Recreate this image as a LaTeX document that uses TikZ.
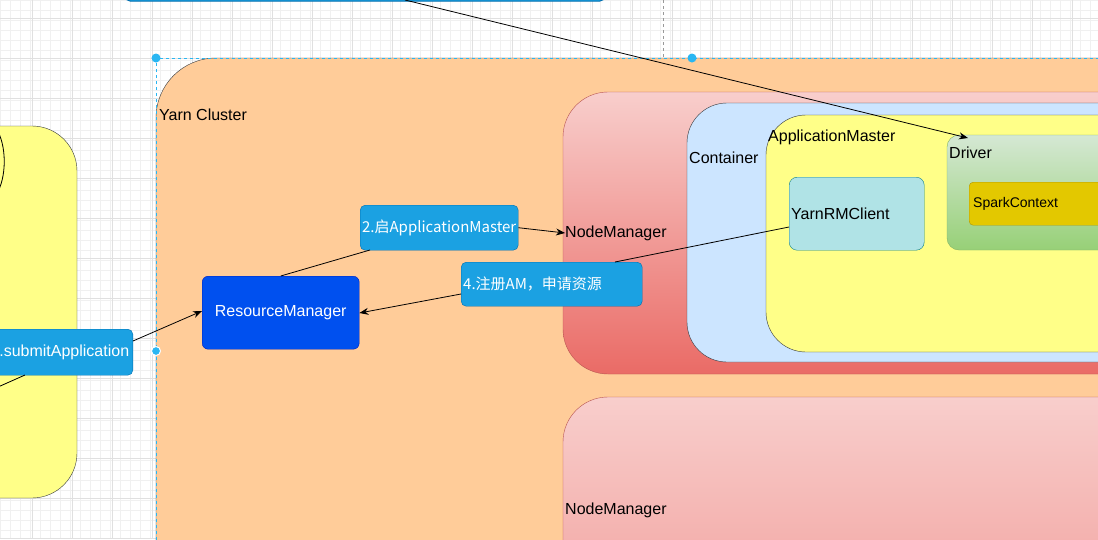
\documentclass[tikz,border=0pt]{standalone}
\usepackage{fontspec}
\setmainfont{Liberation Sans}
\newfontfamily\cjk{Noto Sans CJK SC}
\usetikzlibrary{arrows.meta}
\definecolor{blueb}{HTML}{1BA1E2}
\definecolor{bluebd}{HTML}{006EAF}
\definecolor{rmb}{HTML}{0050EF}
\definecolor{rmbd}{HTML}{001DBC}
\definecolor{orng}{HTML}{FFCC99}
\definecolor{dk}{HTML}{36393D}
\definecolor{yel}{HTML}{FFFF88}
\definecolor{nmt}{HTML}{F8CECC}
\definecolor{nmb}{HTML}{EA6B66}
\definecolor{nmd}{HTML}{B85450}
\definecolor{cont}{HTML}{CCE5FF}
\definecolor{drt}{HTML}{D5E8D4}
\definecolor{drb}{HTML}{97D077}
\definecolor{drd}{HTML}{82B366}
\definecolor{spk}{HTML}{E3C800}
\definecolor{spkd}{HTML}{B09500}
\definecolor{yrm}{HTML}{B0E3E6}
\definecolor{yrmd}{HTML}{0E8088}
\definecolor{sel}{HTML}{29B6F2}
\begin{document}
\begin{tikzpicture}[x=1pt,y=-1pt,
  fs/.style={font=\fontsize{16}{19}\selectfont},
  lbl/.style={fs,anchor=west,inner sep=0pt,text=black},
  bbox/.style={draw=bluebd,fill=blueb,rounded corners=5pt,text=white,fs,inner sep=0pt},
  ar/.style={-{Stealth[length=9pt,width=7pt]},black,line width=0.8pt},
  ln/.style={black,line width=0.8pt}]
\useasboundingbox (0,0) rectangle (1098,539);
\clip (0,0) rectangle (1098,539);
\fill[white] (0,0) rectangle (1098,539);
\foreach \i in {0,10,...,1100} \draw[black!6,line width=0.5pt] (\i,0) -- (\i,539);
\foreach \i in {0,10,...,540} \draw[black!6,line width=0.5pt] (0,\i) -- (1098,\i);
\foreach \i in {-8,32,...,1100} \draw[black!12,line width=0.6pt] (\i,0) -- (\i,539);
\foreach \i in {18,58,...,540} \draw[black!12,line width=0.6pt] (0,\i) -- (1098,\i);
% top bar
\draw[bluebd,fill=blueb,rounded corners=5pt,line width=1pt] (125,-30) rectangle (605,1);
\draw[black!40,dashed] (663,0) -- (663,57);
% left yellow
\draw[dk,fill=yel,rounded corners=45pt] (-60,126) rectangle (77,498);
\draw[black,line width=0.8pt] (-4,128) .. controls (7,145) and (7,178) .. (-4,195);
% cluster
\draw[dk,fill=orng,rounded corners=60pt] (156,58) rectangle (1160,620);
\node[lbl] (yc) at (159,115) {Yarn Cluster};
% selection
\draw[sel,dashed,line width=0.8pt] (156,600) -- (156,58) -- (1110,58);
\foreach \p in {(156,58),(692,58),(156,351)} \fill[sel] \p circle (4.5pt);
\draw[white,line width=1pt] (156,351) circle (4.5pt);
% NodeManagers
\draw[nmd,top color=nmt,bottom color=nmb,rounded corners=45pt] (563,92) rectangle (1160,374);
\node[lbl] (nm1) at (565,233) {NodeManager};
\draw[nmd,top color=nmt,bottom color=nmb!60!nmt,rounded corners=45pt] (563,397) rectangle (1160,700);
\node[lbl] (nm2) at (565,510) {NodeManager};
% container
\draw[dk,fill=cont,rounded corners=40pt] (687,103) rectangle (1160,362);
\node[lbl] at (689,158) {Container};
\draw[dk,fill=yel,rounded corners=40pt] (766,115) rectangle (1160,352);
\node[lbl] at (768,137) {ApplicationMaster};
\draw[drd,top color=drt,bottom color=drb,rounded corners=12pt] (947,135) rectangle (1160,250);
\node[lbl] (drv) at (949,153) {Driver};
\node[draw=spkd,fill=spk,rounded corners=4pt,minimum width=141pt,minimum height=43pt,anchor=north west,inner sep=0pt,text width=137pt,align=left,font=\fontsize{14}{17}\selectfont] (sc) at (969,182) {\hspace*{2pt}SparkContext};
\node[draw=yrmd,fill=yrm,rounded corners=8pt,minimum width=135pt,minimum height=73pt,anchor=north west,fs,inner sep=0pt,text width=131pt,align=left] (yrc) at (789,177) {YarnRMClient};
% boxes
\node[bbox,minimum width=158pt,minimum height=45pt,anchor=north west,font=\cjk\fontsize{15}{18}\selectfont] (am) at (360,205) {2.启ApplicationMaster};
\node[bbox,minimum width=181pt,minimum height=44pt,anchor=north west,font=\cjk\fontsize{15}{18}\selectfont,text width=177pt,align=left] (reg) at (461,262) {4.注册AM，申请资源};
\node[draw=rmbd,fill=rmb,rounded corners=6pt,text=white,fs,minimum width=157pt,minimum height=73pt,anchor=north west,inner sep=0pt] (rm) at (202,276) {ResourceManager};
\node[bbox,minimum width=146pt,minimum height=46pt,anchor=north east] (sub) at (133,329) {1.submitApplication};
\coordinate (src) at (-20,395);
\coordinate (topb) at (405,0);
\coordinate (subin) at (25,375);
\coordinate (amin) at (370,250);
\coordinate (regin) at (615,262);
% connectors
\draw[ln] (src) -- (subin);
\draw[ar] (sub.east |- 0,341) -- (rm.west |- 0,311);
\draw[ln] (rm.north) -- (amin);
\draw[ar] (am.east) -- (nm1.west);
\draw[ln] (yrc.west |- 0,227) -- (regin);
\draw[ar] (reg.west |- 0,294) -- (rm.east |- 0,313);
\draw[ar] (topb) -- (968,138);
\end{tikzpicture}
\end{document}
